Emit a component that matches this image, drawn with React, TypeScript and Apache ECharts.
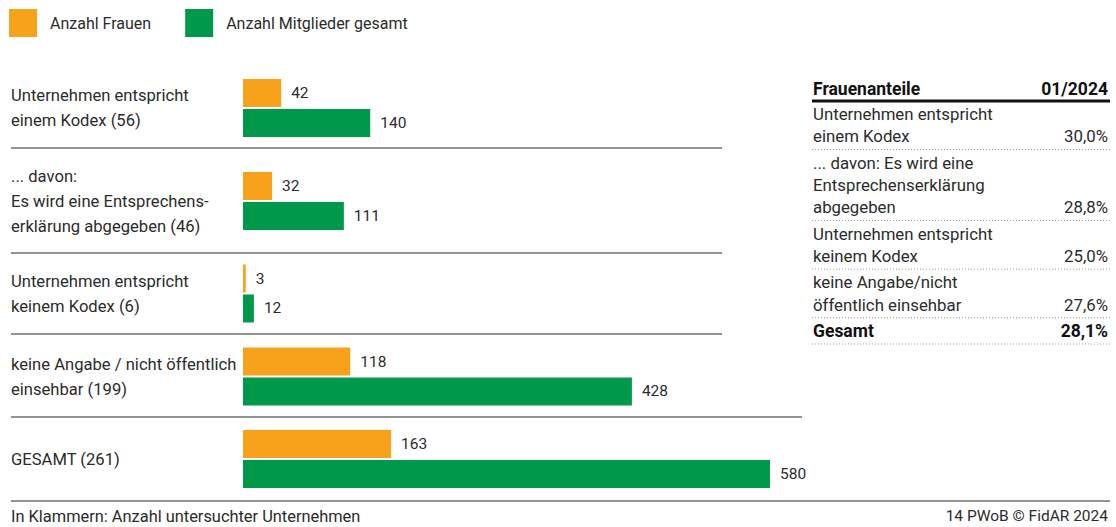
import React, { useEffect, useRef } from "react";
import * as echarts from "echarts";

const categories = [
  "Unternehmen entspricht\neinem Kodex (56)",
  "... davon:\nEs wird eine Entsprechens-\nerklärung abgegeben (46)",
  "Unternehmen entspricht\nkeinem Kodex (6)",
  "keine Angabe / nicht öffentlich\neinsehbar (199)",
  "GESAMT (261)",
];
const frauen = [42, 32, 3, 118, 163];
const gesamt = [140, 111, 12, 428, 580];
const seriesNames = ["Anzahl Frauen", "Anzahl Mitglieder gesamt"];

const tableTitle = "Frauenanteile";
const tableDate = "01/2024";
const tableLabels = [
  "Unternehmen entspricht\neinem Kodex",
  "... davon: Es wird eine\nEntsprechenserklärung\nabgegeben",
  "Unternehmen entspricht\nkeinem Kodex",
  "keine Angabe/nicht\nöffentlich einsehbar",
  "Gesamt",
];
const tableShares = ["30,0%", "28,8%", "25,0%", "27,6%", "28,1%"];

const footLeft = "In Klammern: Anzahl untersuchter Unternehmen";
const footRight = "14 PWoB © FidAR 2024";

const ORANGE = "#F8A11B";
const GREEN = "#00984A";
const FONT = "Roboto";
const TXT = "#2b2b2b";

export default function App() {
  const ref = useRef<HTMLDivElement>(null);
  useEffect(() => {
    if (!ref.current) return;
    const chart = echarts.init(ref.current, null, { renderer: "svg" });
    const centers = [108, 201, 293.5, 376.5, 459];
    const grids: any[] = [];
    const xAxes: any[] = [];
    const yAxes: any[] = [];
    const series: any[] = [];
    categories.forEach((c, i) => {
      grids.push({ left: 243, width: 527, top: centers[i] - 30, height: 60 });
      xAxes.push({ type: "value", gridIndex: i, min: 0, max: 580, show: false });
      yAxes.push({
        type: "category",
        gridIndex: i,
        inverse: true,
        data: [c],
        axisLine: { show: false },
        axisTick: { show: false },
        axisLabel: {
          align: "left",
          margin: 232,
          fontFamily: FONT,
          fontSize: 16.6,
          lineHeight: 25,
          color: TXT,
        },
      });
      const lbl = {
        show: true,
        position: "right",
        distance: 10,
        fontFamily: FONT,
        fontSize: 15.5,
        color: TXT,
      };
      series.push({
        type: "bar",
        name: seriesNames[0],
        xAxisIndex: i,
        yAxisIndex: i,
        data: [frauen[i]],
        barWidth: 28,
        barGap: "7%",
        itemStyle: { color: ORANGE },
        label: lbl,
      });
      series.push({
        type: "bar",
        name: seriesNames[1],
        xAxisIndex: i,
        yAxisIndex: i,
        data: [gesamt[i]],
        barWidth: 28,
        barGap: "7%",
        itemStyle: { color: GREEN },
        label: lbl,
      });
    });

    const graphic: any[] = [];
    const sep = (y: number, x2: number) =>
      graphic.push({
        type: "line",
        shape: { x1: 11, y1: y, x2, y2: y },
        style: { stroke: "#6f6f6f", lineWidth: 1.5 },
        silent: true,
      });
    sep(148, 722);
    sep(253, 722);
    sep(334, 722);
    sep(417, 802);
    sep(501, 1110);

    // table
    const tx1 = 813;
    const tx2 = 1108;
    const TF = 16.8;
    graphic.push({
      type: "text",
      x: tx1,
      y: 89,
      style: { text: tableTitle, fontFamily: FONT, fontSize: 17.5, fontWeight: "bold", fill: "#111", verticalAlign: "middle" },
    });
    graphic.push({
      type: "text",
      x: tx2,
      y: 89,
      style: { text: tableDate, fontFamily: FONT, fontSize: 17.5, fontWeight: "bold", fill: "#111", align: "right", verticalAlign: "middle" },
    });
    graphic.push({
      type: "line",
      shape: { x1: 812, y1: 101, x2: 1110, y2: 101 },
      style: { stroke: "#111", lineWidth: 3 },
    });
    const lh = 22.3;
    let cursor = 101;
    tableLabels.forEach((t, i) => {
      const n = t.split("\n").length;
      const top = cursor + 2;
      const bold = i === tableLabels.length - 1;
      graphic.push({
        type: "text",
        x: tx1,
        y: top,
        style: {
          text: t,
          fontFamily: FONT,
          fontSize: bold ? 17.5 : TF,
          lineHeight: lh,
          fontWeight: bold ? "bold" : "normal",
          fill: bold ? "#111" : TXT,
          verticalAlign: "top",
        },
      });
      graphic.push({
        type: "text",
        x: tx2,
        y: top + n * lh - lh / 2,
        style: {
          text: tableShares[i],
          fontFamily: FONT,
          fontSize: bold ? 17.5 : TF,
          fontWeight: bold ? "bold" : "normal",
          fill: bold ? "#111" : TXT,
          align: "right",
          verticalAlign: "middle",
        },
      });
      const ly = top + n * lh + 2;
      graphic.push({
        type: "line",
        shape: { x1: 812, y1: ly, x2: 1110, y2: ly },
        style: { stroke: "#9a9a9a", lineWidth: 1, lineDash: [1, 2] },
      });
      cursor = ly;
    });

    graphic.push({
      type: "text",
      x: 11,
      y: 516,
      style: { text: footLeft, fontFamily: FONT, fontSize: 16.4, fill: TXT, verticalAlign: "middle" },
    });
    graphic.push({
      type: "text",
      x: 1108,
      y: 516,
      style: { text: footRight, fontFamily: FONT, fontSize: 15.5, fill: TXT, align: "right", verticalAlign: "middle" },
    });

    chart.setOption({
      animation: false,
      backgroundColor: "#fff",
      legend: {
        left: 9,
        top: 9,
        padding: 0,
        itemWidth: 28,
        itemHeight: 28,
        itemGap: 34,
        icon: "rect",
        data: seriesNames,
        textStyle: { fontFamily: FONT, fontSize: 16, color: TXT, padding: [0, 0, 0, 8] },
      },
      grid: grids,
      xAxis: xAxes,
      yAxis: yAxes,
      series,
      graphic,
    });
    return () => chart.dispose();
  }, []);
  return (
    <div
      ref={ref}
      style={{ position: "absolute", left: 0, top: 0, width: 1116, height: 527 }}
    />
  );
}
